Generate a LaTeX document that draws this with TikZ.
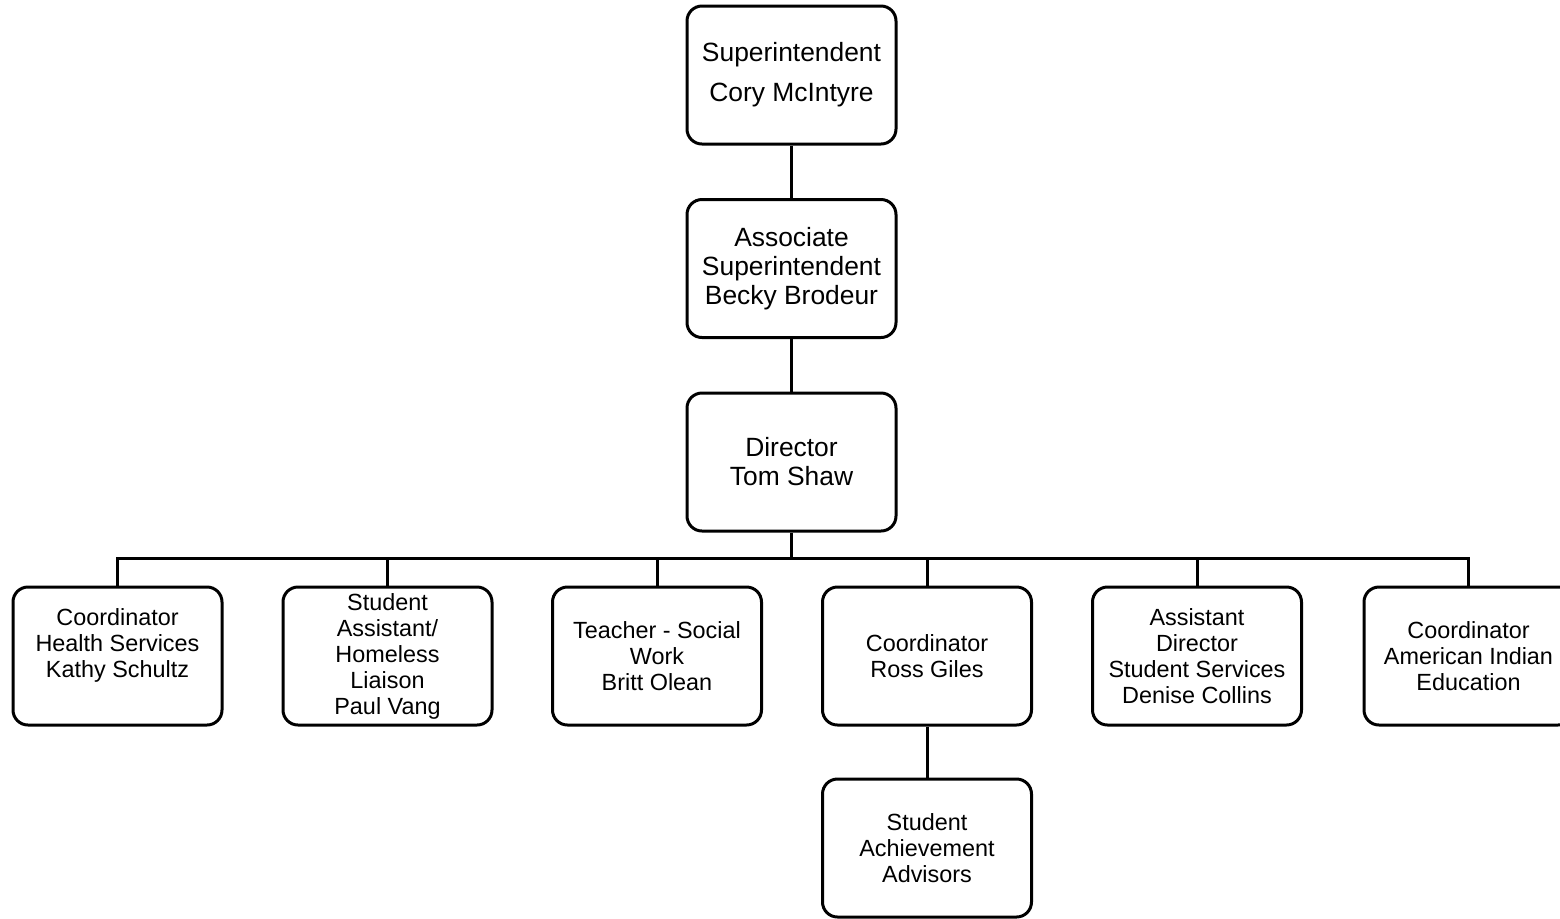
\documentclass[tikz,border=0pt]{standalone}
\usepackage{fontspec}
\setmainfont{Liberation Sans}
\begin{document}
\begin{tikzpicture}[x=0.5pt,y=-0.5pt,
  box/.style={draw=black, line width=1.5pt, rounded corners=7.5pt, fill=white,
    minimum width=104.5pt, minimum height=69pt, align=center, inner sep=2pt},
  topbox/.style={box, font=\fontsize{13.2pt}{14.5pt}\selectfont},
  lowbox/.style={box, font=\fontsize{11.7pt}{13pt}\selectfont},
  link/.style={draw=black, line width=1.5pt, line join=miter}]
\useasboundingbox (0,0) rectangle (1560,918);
\clip (0,0) rectangle (1560,918);
\fill[white] (0,0) rectangle (1560,918);
\node[topbox, font=\fontsize{13.2pt}{20pt}\selectfont] (sup) at (791.5,75) {Superintendent\\Cory McIntyre};
\node[topbox] (asc) at (791.5,268.5) {Associate\\Superintendent\\Becky Brodeur};
\node[topbox] (dir) at (791.5,462) {Director\\Tom Shaw};
\node[lowbox] (b1) at (117.5,656) {Coordinator\\Health Services\\Kathy Schultz\\\mbox{}};
\node[lowbox] (b2) at (387.5,656) {Student\\Assistant/\\Homeless\\Liaison\\Paul Vang};
\node[lowbox] (b3) at (657,656) {Teacher - Social\\Work\\Britt Olean};
\node[lowbox] (b4) at (927,656) {Coordinator\\Ross Giles};
\node[lowbox] (b5) at (1197,656) {Assistant\\Director\\Student Services\\Denise Collins};
\node[lowbox] (b6) at (1468.5,656) {Coordinator\\American Indian\\Education};
\node[lowbox] (adv) at (927,848) {Student\\Achievement\\Advisors};
\coordinate (bus) at (0,558);
\draw[link] (sup.south) -- (asc.north);
\draw[link] (asc.south) -- (dir.north);
\draw[link] (dir.south) -- (dir.south |- bus);
\draw[link] (b1.north) -- (b1.north |- bus) -| (b6.north);
\foreach \n in {b2,b3,b4,b5} \draw[link] (\n.north) -- (\n.north |- bus);
\draw[link] (b4.south) -- (adv.north);
\end{tikzpicture}
\end{document}
